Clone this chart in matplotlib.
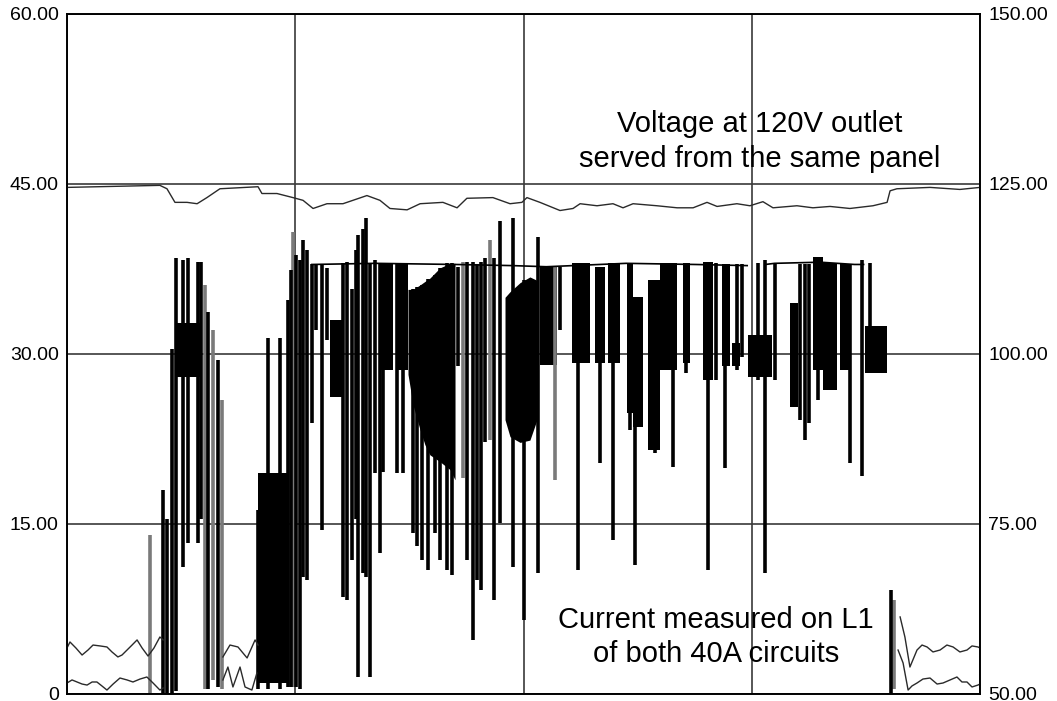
import numpy as np
import matplotlib
matplotlib.use("Agg")
import matplotlib.pyplot as plt

plt.rcParams['font.family'] = ['Liberation Sans', 'DejaVu Sans']

# time axis has 4 unlabeled divisions (0..4)
# voltage at the 120V outlet, right axis (V)
volt_t = [0, 0.407, 0.438, 0.473, 0.526, 0.570, 0.613, 0.670, 0.837, 0.854, 0.920, 0.990, 1.034, 1.078,
          1.139, 1.209, 1.314, 1.371, 1.415, 1.490, 1.547, 1.647, 1.709, 1.752, 1.866, 1.941, 1.993, 2.015,
          2.072, 2.160, 2.217, 2.248, 2.322, 2.392, 2.436, 2.480, 2.585, 2.673, 2.743, 2.804, 2.848, 2.935,
          2.992, 3.049, 3.093, 3.198, 3.268, 3.343, 3.430, 3.531, 3.593, 3.606, 3.636, 3.781, 3.912, 4.0]
volt_v = [124.5, 124.8, 124.3, 122.3, 122.3, 122.1, 123.0, 124.3, 124.6, 123.6, 123.6, 123.0, 122.6, 121.4,
          122.1, 122.1, 123.3, 122.6, 121.4, 121.2, 122.1, 122.3, 121.5, 122.9, 123.0, 122.1, 122.3, 123.0,
          122.3, 121.1, 121.4, 122.1, 121.8, 122.1, 121.5, 122.1, 121.8, 121.5, 121.5, 122.3, 121.7, 122.1,
          121.8, 122.4, 121.5, 121.8, 121.5, 121.7, 121.4, 121.8, 122.3, 124.0, 124.3, 124.5, 124.2, 124.5]

nan = np.nan
# idle current of the two circuits (A), nan = hidden by load
idle_a_t = [0, 0.013, 0.039, 0.066, 0.092, 0.114, 0.145, 0.175, 0.197, 0.223, 0.241, 0.263, 0.285, 0.307,
            0.329, 0.355, 0.381, 0.407, 0.421, nan, 0.683, 0.714, 0.749, 0.789, 0.824, 0.837, nan,
            3.650, 3.671, 3.693, 3.724, 3.746, 3.768, 3.794, 3.825, 3.855, 3.882, 3.912, 3.943, 3.965, 3.991, 4.0]
idle_a_i = [4.06, 4.59, 4.06, 3.44, 3.88, 4.32, 4.24, 4.15, 3.71, 3.27, 3.44, 3.88, 4.32, 4.77,
            4.06, 3.35, 4.06, 5.03, 4.77, nan, 3.27, 4.32, 4.15, 3.18, 4.77, 4.32, nan,
            6.8, 5.03, 2.38, 3.88, 4.32, 4.15, 3.71, 3.88, 4.32, 4.15, 3.71, 3.88, 4.24, 4.15, 4.06]
idle_b_t = [0, 0.022, 0.044, 0.066, 0.088, 0.110, 0.131, 0.153, 0.175, 0.202, 0.232, 0.263, 0.289, 0.320,
            0.350, 0.377, 0.407, 0.421, nan, 0.683, 0.705, 0.727, 0.758, 0.780, 0.810, 0.832, nan,
            3.641, 3.663, 3.685, 3.702, 3.724, 3.750, 3.781, 3.812, 3.838, 3.869, 3.899, 3.921, 3.943,
            3.965, 3.991, 4.0]
idle_b_i = [0.97, 1.24, 1.06, 0.88, 0.79, 1.06, 1.06, 0.71, 0.35, 0.88, 1.41, 1.24, 1.06, 1.32,
            1.50, 0.97, 0.35, 0.53, nan, 1.24, 2.38, 0.62, 2.38, 0.62, 0.35, 1.85, nan,
            3.88, 2.74, 0.35, 0.71, 0.97, 1.32, 1.41, 0.88, 0.97, 1.24, 1.50, 1.06, 1.06,
            0.62, 0.79, 0.88]

# dense oscillation bands (start, end, low, high) in A
band_t0 = [0.473, 0.837, 1.152, 1.371, 1.446, 2.072, 2.212, 2.313, 2.370, 2.453, 2.480, 2.545, 2.598,
           2.699, 2.786, 2.870, 2.913, 2.984, 3.168, 3.268, 3.312, 3.387, 3.496]
band_t1 = [0.591, 0.968, 1.209, 1.428, 1.494, 2.147, 2.291, 2.357, 2.423, 2.480, 2.524, 2.598, 2.673,
           2.729, 2.830, 2.905, 2.949, 3.089, 3.203, 3.312, 3.373, 3.430, 3.593]
band_lo = [28.0, 1.0, 26.2, 28.6, 28.6, 29.0, 29.2, 29.2, 29.2, 24.8, 23.6, 21.5, 28.6,
           29.2, 27.7, 28.9, 28.9, 28.0, 25.3, 28.6, 26.8, 28.6, 28.3]
band_hi = [32.7, 19.5, 33.0, 38.0, 37.9, 37.7, 38.0, 37.7, 38.0, 38.0, 35.0, 36.5, 38.0,
           38.0, 38.1, 37.9, 31.0, 31.7, 34.5, 38.6, 38.0, 37.9, 32.5]

# the two big tapered bursts
burst1_t = [1.494, 1.516, 1.547, 1.568, 1.590, 1.634, 1.678, 1.700]
burst1_hi = [35.7, 35.7, 36.1, 36.4, 36.7, 37.6, 38.0, 38.0]
burst1_lo = [28.2, 25.5, 23.3, 22.0, 21.1, 20.5, 19.8, 18.9]
burst2_t = [1.919, 1.941, 1.985, 2.028, 2.059]
burst2_hi = [35.0, 35.5, 36.3, 36.8, 36.5]
burst2_lo = [24.2, 22.7, 22.2, 22.4, 24.2]

# individual current swings, circuit 1 (black)
swing_t = [0.421, 0.438, 0.460, 0.477, 0.508, 0.530, 0.574, 0.587, 0.618, 0.662, 0.837, 0.881, 0.933,
           0.968, 0.981, 1.003, 1.021, 1.034, 1.051, 1.073, 1.091, 1.117, 1.139, 1.209, 1.227, 1.249,
           1.266, 1.275, 1.297, 1.310, 1.327, 1.349, 1.371, 1.384, 1.446, 1.472, 1.516, 1.534, 1.555,
           1.581, 1.612, 1.634, 1.665, 1.687, 1.713, 1.752, 1.779, 1.796, 1.814, 1.831, 1.871, 1.897,
           1.954, 2.000, 2.063, 2.094, 2.160, 2.239, 2.335, 2.392, 2.466, 2.489, 2.576, 2.655, 2.712,
           2.808, 2.843, 2.883, 2.935, 2.957, 3.027, 3.058, 3.102, 3.211, 3.234, 3.251, 3.290, 3.352,
           3.409, 3.430, 3.483, 3.518, 3.610]
swing_lo = [0.1, 0.1, 0.1, 0.3, 11.2, 13.3, 13.3, 15.4, 0.4, 0.6, 0.4, 0.4, 0.4,
            0.6, 0.6, 0.6, 0.4, 10.3, 10.1, 23.9, 32.1, 14.5, 31.2, 8.6, 8.3, 11.8,
            15.4, 1.5, 10.7, 10.3, 1.5, 19.5, 12.4, 19.6, 19.5, 19.5, 14.2, 13.1, 11.8,
            10.9, 14.2, 11.8, 10.9, 10.5, 28.9, 11.8, 4.8, 10.1, 9.2, 22.2, 8.3, 15.1,
            11.2, 6.5, 10.7, 29.0, 32.1, 10.9, 20.4, 13.6, 23.3, 11.4, 21.3, 20.0, 28.3,
            10.9, 27.7, 19.9, 28.6, 29.7, 27.7, 10.7, 27.7, 24.2, 22.4, 23.9, 25.9, 26.8,
            28.6, 20.4, 19.2, 28.6, 0.1]
swing_hi = [18.0, 15.4, 30.4, 38.5, 38.3, 38.5, 38.1, 38.1, 33.7, 29.5, 16.2, 31.4, 31.4,
            34.8, 37.4, 38.7, 38.3, 40.1, 39.2, 37.9, 37.9, 37.9, 37.6, 38.0, 38.1, 35.7,
            39.2, 40.5, 41.0, 42.0, 38.0, 38.3, 38.0, 38.0, 37.9, 37.9, 35.7, 35.9, 36.1,
            36.6, 37.0, 37.6, 38.0, 38.0, 37.7, 38.1, 38.1, 37.9, 38.1, 38.5, 38.5, 41.7,
            42.0, 36.5, 40.3, 37.7, 37.7, 38.0, 37.7, 38.0, 38.0, 35.0, 36.5, 38.0, 38.0,
            38.1, 38.0, 37.9, 37.9, 37.9, 38.0, 38.3, 37.9, 37.9, 37.9, 37.9, 38.6, 38.0,
            37.9, 37.9, 38.3, 38.0, 9.2]

# swings of circuit 2 (grey)
swing2_t = [0.364, 0.605, 0.640, 0.679, 0.990, 1.735, 1.853, 2.138, 3.623]
swing2_lo = [0.1, 0.4, 1.2, 0.4, 0.6, 19.1, 22.4, 18.9, 0.4]
swing2_hi = [14.0, 36.1, 32.1, 25.9, 40.8, 38.1, 40.1, 37.7, 8.3]

# current sitting at full load between dips
full_t = [1.073, 1.35, 1.70, 1.95, 2.10, 2.45, 2.75, 2.98, nan, 3.06, 3.10, 3.30, 3.45, 3.49]
full_i = [37.9, 38.0, 37.9, 37.8, 37.7, 38.0, 37.9, 37.8, nan, 37.9, 38.0, 38.1, 37.9, 37.9]

left_ticks = [0, 15, 30, 45, 60]
left_labels = ["0", "15.00", "30.00", "45.00", "60.00"]
right_ticks = [50, 75, 100, 125, 150]
right_labels = ["50.00", "75.00", "100.00", "125.00", "150.00"]

fig = plt.figure(figsize=(10.57, 7.01), dpi=100)
ax = fig.add_axes([67 / 1057, 7 / 701, 913 / 1057, 680 / 701])
ax.set_xlim(0, 4)
ax.set_ylim(0, 60)
ax.set_xticks([0, 1, 2, 3, 4])
ax.set_yticks(left_ticks)
ax.set_yticklabels(left_labels)
ax.tick_params(axis='x', length=0, labelbottom=False)
ax.tick_params(axis='y', length=0, pad=6, labelsize=14)
ax.grid(True, color='#3a3a3a', lw=1.2, zorder=0)
ax.set_axisbelow(True)

# current traces
for t0, t1, lo, hi in zip(band_t0, band_t1, band_lo, band_hi):
    ax.fill_between([t0, t1], [lo, lo], [hi, hi], color='black', lw=0, zorder=2)
ax.fill_between(burst1_t, burst1_lo, burst1_hi, color='black', lw=0, zorder=2)
ax.fill_between(burst2_t, burst2_lo, burst2_hi, color='black', lw=0, zorder=2)
ax.vlines(swing2_t, swing2_lo, swing2_hi, color='#7a7a7a', lw=2.6, zorder=2)
ax.vlines(swing_t, swing_lo, swing_hi, color='black', lw=2.6, zorder=3)
ax.plot(full_t, full_i, color='black', lw=1.2, zorder=3)
ax.plot(idle_a_t, idle_a_i, color='#2a2a2a', lw=1.0, zorder=3)
ax.plot(idle_b_t, idle_b_i, color='#2a2a2a', lw=1.0, zorder=3)

ax.text(2.843, 5.83, "Current measured on L1", ha='center', va='baseline', fontsize=21, zorder=5)
ax.text(2.843, 2.82, "of both 40A circuits", ha='center', va='baseline', fontsize=21, zorder=5)
ax.text(3.036, 49.6, "Voltage at 120V outlet", ha='center', va='baseline', fontsize=21, zorder=5)
ax.text(3.036, 46.5, "served from the same panel", ha='center', va='baseline', fontsize=21, zorder=5)

# voltage on right axis
ax2 = ax.twinx()
ax2.set_ylim(50, 150)
ax2.set_yticks(right_ticks)
ax2.set_yticklabels(right_labels)
ax2.tick_params(axis='y', length=0, pad=6, labelsize=14)
ax2.plot(volt_t, volt_v, color='#2a2a2a', lw=1.0)

for a in (ax, ax2):
    for s in a.spines.values():
        s.set_color('black')
        s.set_linewidth(1.2)

fig.savefig("out.png", dpi=100)
